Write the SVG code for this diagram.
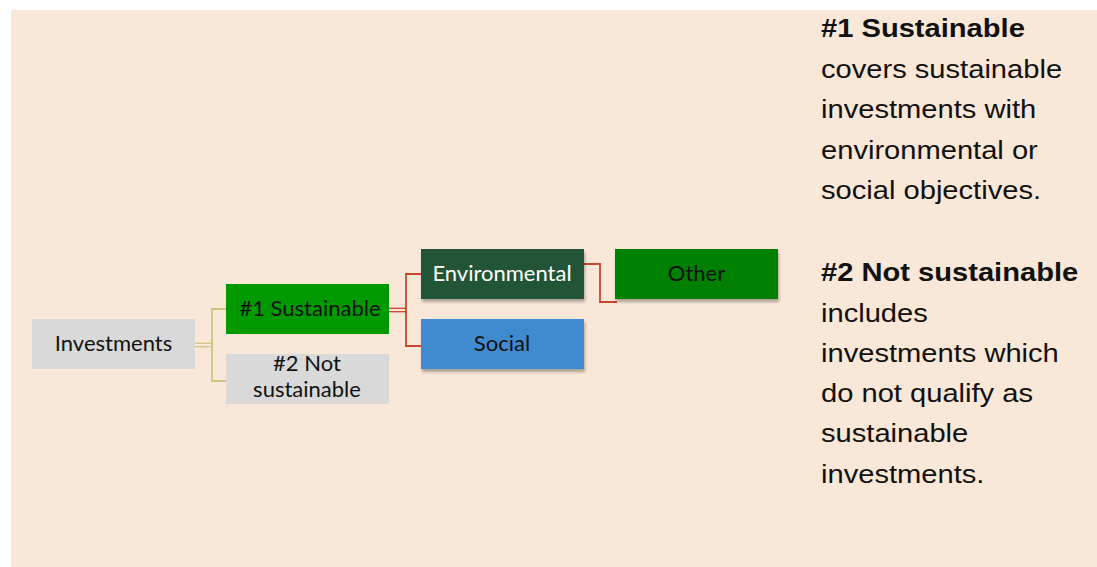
<svg xmlns="http://www.w3.org/2000/svg" width="1097" height="567" viewBox="0 0 1097 567">
  <style>
    .node-text { font-family: Lato, "Open Sans", "Liberation Sans", sans-serif; font-size: 22px; text-anchor: middle; fill: #111111; }
    .side { font-family: "Liberation Sans", Arial, sans-serif; font-size: 25px; fill: #111111; }
    .side-b { font-weight: bold; }
    .khaki { stroke: #CFC481; fill: none; }
    .red { stroke: #C8472C; fill: none; }
  </style>
  <defs>
    <filter id="shadow" x="-10%" y="-20%" width="125%" height="150%">
      <feDropShadow dx="1" dy="3" stdDeviation="1.5" flood-color="#000000" flood-opacity="0.3"/>
    </filter>
  </defs>

  <rect id="background" x="11" y="10" width="1086" height="557" fill="#F9E7D7"/>

  <g id="connectors">
    <line class="khaki" x1="195" y1="343.3" x2="212" y2="343.3" stroke-width="1.3"/>
    <line class="khaki" x1="195" y1="346.7" x2="212" y2="346.7" stroke-width="1.3"/>
    <polyline class="khaki" points="226,309 212,309 212,381 226,381" stroke-width="1.8"/>

    <line class="red" x1="389" y1="308.3" x2="406" y2="308.3" stroke-width="1.3"/>
    <line class="red" x1="389" y1="311.7" x2="406" y2="311.7" stroke-width="1.3"/>
    <polyline class="red" points="421,274 406,274 406,346 421,346" stroke-width="1.8"/>

    <polyline class="red" points="584,264 600,264 600,302 617,302" stroke-width="1.8"/>
  </g>

  <g id="node-investments">
    <rect x="32" y="319" width="163" height="50" fill="#D9D9D9"/>
    <text class="node-text" x="113.5" y="351">Investments</text>
  </g>

  <g id="node-sustainable">
    <rect x="226" y="284" width="163" height="50" fill="#009900"/>
    <text class="node-text" x="310" y="316">#1 Sustainable</text>
  </g>

  <g id="node-not-sustainable">
    <rect x="226" y="354" width="163" height="50" fill="#D9D9D9"/>
    <text class="node-text" x="307" y="371">#2 Not</text>
    <text class="node-text" x="307" y="397">sustainable</text>
  </g>

  <g id="node-environmental">
    <rect x="421" y="249" width="163" height="50" fill="#245437" filter="url(#shadow)"/>
    <text class="node-text" x="502" y="281" style="fill:#FFFFFF">Environmental</text>
  </g>

  <g id="node-social">
    <rect x="421" y="319" width="163" height="50" fill="#3F8ACF" filter="url(#shadow)"/>
    <text class="node-text" x="502" y="351">Social</text>
  </g>

  <g id="node-other">
    <rect x="615" y="249" width="163" height="50" fill="#008000" filter="url(#shadow)"/>
    <text class="node-text" x="696.5" y="281">Other</text>
  </g>

  <g id="legend" transform="translate(821,0) scale(1.165,1)">
    <text class="side side-b" x="0" y="37">#1 Sustainable</text>
    <text class="side" x="0" y="78">covers sustainable</text>
    <text class="side" x="0" y="118">investments with</text>
    <text class="side" x="0" y="159">environmental or</text>
    <text class="side" x="0" y="199">social objectives.</text>

    <text class="side side-b" x="0" y="281">#2 Not sustainable</text>
    <text class="side" x="0" y="322">includes</text>
    <text class="side" x="0" y="362">investments which</text>
    <text class="side" x="0" y="402">do not qualify as</text>
    <text class="side" x="0" y="442">sustainable</text>
    <text class="side" x="0" y="483">investments.</text>
  </g>
</svg>
